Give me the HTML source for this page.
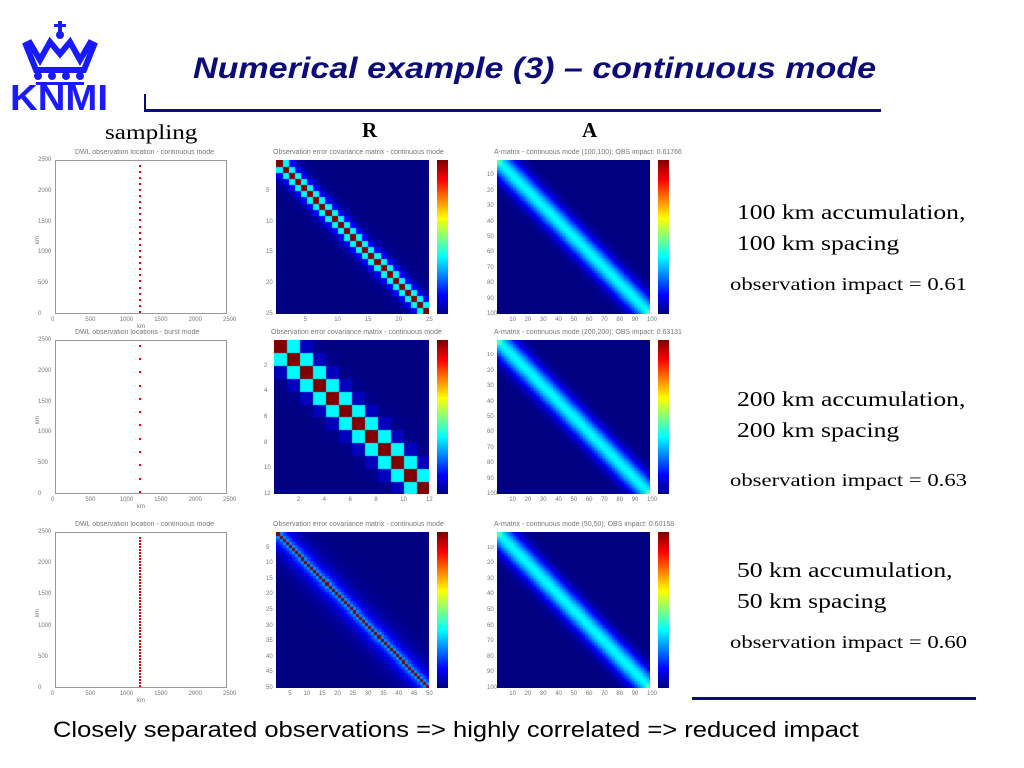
<!DOCTYPE html>
<html><head><meta charset="utf-8"><style>
body{margin:0;width:1024px;height:768px;background:#fff;position:relative;overflow:hidden;font-family:"Liberation Sans",sans-serif}
.a{position:absolute}
.t{font-family:"Liberation Serif",serif;color:#000;transform-origin:0 0;white-space:nowrap}
.s{font-size:6px;color:#777;white-space:nowrap}
canvas{position:absolute}
.box{position:absolute;border:1px solid #999;background:#fff;box-sizing:border-box}
</style></head><body>
<div class="a" style="left:8px;top:18px;width:104px;height:95px">
<svg width="104" height="95" viewBox="0 0 104 95">
<g fill="#1a1aff">
<rect x="50" y="3" width="4" height="12"/><rect x="46" y="6" width="12" height="3"/><circle cx="52" cy="17" r="4"/>
<path d="M22 25 L32 42 L42 24 L52 36 L62 24 L72 42 L82 25 L86 27 L76 52 L28 52 L18 27Z" fill="none" stroke="#1a1aff" stroke-width="6"/>
<circle cx="30" cy="58" r="4"/><circle cx="44" cy="58" r="4"/><circle cx="58" cy="58" r="4"/><circle cx="72" cy="58" r="4"/>
<rect x="28" y="64" width="48" height="3"/>
</g>
<text x="2" y="92" font-family="Liberation Sans" font-weight="bold" font-size="36" fill="#1a1aff" textLength="98" lengthAdjust="spacingAndGlyphs">KNMI</text>
</svg></div>
<div class="a t" style="left:193px;top:52px;font-family:'Liberation Sans',sans-serif;font-size:30px;font-weight:bold;font-style:italic;color:#0b0b7a;transform:scaleX(1.135)">Numerical example (3) – continuous mode</div>
<div class="a" style="left:144px;top:94px;width:2px;height:18px;background:#0b0b7a"></div>
<div class="a" style="left:144px;top:109px;width:737px;height:3px;background:#0b0b7a"></div>
<div class="a t" style="left:105px;top:120px;font-size:21px;transform:scaleX(1.2)">sampling</div>
<div class="a t" style="left:362px;top:118px;font-size:21px;font-weight:bold">R</div>
<div class="a t" style="left:582px;top:118px;font-size:21px;font-weight:bold">A</div>

<div class="a t" style="left:737px;top:197px;font-size:21px;line-height:31px;transform:scaleX(1.22)">100 km accumulation,<br>100 km spacing</div>
<div class="a t" style="left:730px;top:274px;font-size:18px;transform:scaleX(1.26)">observation impact = 0.61</div>
<div class="a t" style="left:737px;top:384px;font-size:21px;line-height:31px;transform:scaleX(1.22)">200 km accumulation,<br>200 km spacing</div>
<div class="a t" style="left:730px;top:470px;font-size:18px;transform:scaleX(1.26)">observation impact = 0.63</div>
<div class="a t" style="left:737px;top:555px;font-size:21px;line-height:31px;transform:scaleX(1.22)">50 km accumulation,<br>50 km spacing</div>
<div class="a t" style="left:730px;top:632px;font-size:18px;transform:scaleX(1.26)">observation impact = 0.60</div>
<div class="a" style="left:692px;top:697px;width:284px;height:3px;background:#0b0b7a"></div>
<div class="a t" style="left:53px;top:717px;font-family:'Liberation Sans',sans-serif;font-size:22px;transform:scaleX(1.16)">Closely separated observations =&gt; highly correlated =&gt; reduced impact</div>
<div id="root"></div>
<script>
function jet(v){v=Math.max(0,Math.min(1,v));function c(x){return Math.round(255*Math.max(0,Math.min(1,x)))}
return [c(1.5-Math.abs(4*v-3)),c(1.5-Math.abs(4*v-2)),c(1.5-Math.abs(4*v-1))];}
var root=document.getElementById('root');
function txt(x,y,s,extra){var d=document.createElement('div');d.className='a s';d.style.left=x+'px';d.style.top=y+'px';if(extra)d.style.cssText+=extra;d.textContent=s;root.appendChild(d);}
function mat(x,y,w,h,n,f,title,ticks){
 var c=document.createElement('canvas');c.width=w;c.height=h;c.style.left=x+'px';c.style.top=y+'px';root.appendChild(c);
 var g=c.getContext('2d'),im=g.createImageData(w,h);
 for(var py=0;py<h;py++)for(var px=0;px<w;px++){var i=Math.floor(py/h*n),j=Math.floor(px/w*n);var col=jet(f(i,j,n));var k=(py*w+px)*4;im.data[k]=col[0];im.data[k+1]=col[1];im.data[k+2]=col[2];im.data[k+3]=255;}
 g.putImageData(im,0,0);
 var b=document.createElement('canvas');b.width=11;b.height=h;b.style.left=(x+w+8)+'px';b.style.top=y+'px';root.appendChild(b);
 var bg=b.getContext('2d');for(var py=0;py<h;py++){var col=jet(1-py/h);bg.fillStyle='rgb('+col+')';bg.fillRect(0,py,11,1);}
 txt(x-3,y-11,title,'font-size:7px');
 ticks.forEach(function(t){txt(x+t[1]*w-3,y+h+3,t[0]);txt(x-10,y+t[1]*h-3,t[0]);});
}
function rf(a,L){return function(i,j,n){var d=Math.abs(i-j);if(d==0)return 1;return a*Math.exp(-(d-1)/L);}}
function af(s){return function(i,j,n){var d=(i-j)/n;var v=0.37*Math.exp(-d*d/(2*s*s));
 if((i<3&&j<3)||(i>n-4&&j>n-4))v+=0.08;return v;}}
var tA=[['10',.1],['20',.2],['30',.3],['40',.4],['50',.5],['60',.6],['70',.7],['80',.8],['90',.9],['100',1]];
mat(276,160,153,154,25,rf(0.37,0.9),'Observation error covariance matrix - continuous mode',[['5',.2],['10',.4],['15',.6],['20',.8],['25',1]]);
mat(497,160,153,154,100,af(0.075),'A-matrix - continuous mode (100,100); OBS impact: 0.61766',tA);
mat(274,340,155,154,12,rf(0.37,0.55),'Observation error covariance matrix - continuous mode',[['2',1/6],['4',2/6],['6',.5],['8',4/6],['10',5/6],['12',1]]);
mat(497,340,153,154,100,af(0.075),'A-matrix - continuous mode (200,200); OBS impact: 0.63131',tA);
mat(276,532,153,156,50,rf(0.26,3.5),'Observation error covariance matrix - continuous mode',[['5',.1],['10',.2],['15',.3],['20',.4],['25',.5],['30',.6],['35',.7],['40',.8],['45',.9],['50',1]]);
mat(497,532,153,156,100,af(0.075),'A-matrix - continuous mode (50,50); OBS impact: 0.60158',tA);
function samp(y,h,n,title){
 var b=document.createElement('div');b.className='box';b.style.cssText+='left:55px;top:'+y+'px;width:172px;height:'+h+'px';root.appendChild(b);
 txt(75,y-11,title,'font-size:7px');
 var top=0.03*h,bot=h-0.02*h;
 for(var k=0;k<n;k++){var d=document.createElement('div');d.className='a';d.style.cssText='left:139px;width:2px;height:2px;background:#e00;top:'+(y+top+(bot-top)*k/(n-1))+'px';root.appendChild(d);}
 for(var k=0;k<=5;k++){txt(55+k*34.4-4,y+h+3,String(k*500));txt(38,y+h-k*h/5-3,String(k*500));}
 txt(137,y+h+10,'km');txt(34,y+h/2,'km','transform:rotate(-90deg)');
}
samp(160,154,25,'DWL observation location - continuous mode');
samp(340,154,12,'DWL observation locations - burst mode');
samp(532,156,50,'DWL observation location - continuous mode');
</script>
</body></html>
